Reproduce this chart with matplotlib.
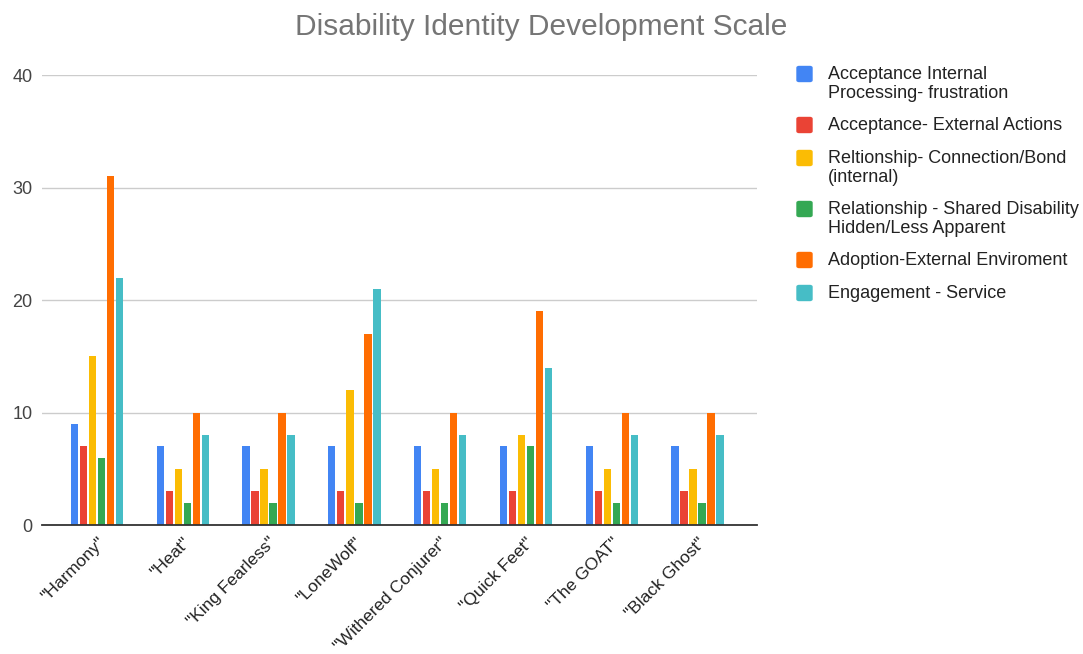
import numpy as np
import matplotlib.pyplot as plt
from matplotlib.patches import FancyBboxPatch

plt.rcParams['font.family'] = ['Liberation Sans', 'DejaVu Sans']

names = ['"Harmony"', '"Heat"', '"King Fearless"', '"LoneWolf"',
         '"Withered Conjurer"', '"Quick Feet"', '"The GOAT"', '"Black Ghost"']
series = ['Acceptance Internal\nProcessing- frustration',
          'Acceptance- External Actions',
          'Reltionship- Connection/Bond\n(internal)',
          'Relationship - Shared Disability\nHidden/Less Apparent',
          'Adoption-External Enviroment',
          'Engagement - Service']
acc_internal = [9, 7, 7, 7, 7, 7, 7, 7]
acc_external = [7, 3, 3, 3, 3, 3, 3, 3]
rel_bond = [15, 5, 5, 12, 5, 8, 5, 5]
rel_shared = [6, 2, 2, 2, 2, 7, 2, 2]
adoption = [31, 10, 10, 17, 10, 19, 10, 10]
engagement = [22, 8, 8, 21, 8, 14, 8, 8]
values = [acc_internal, acc_external, rel_bond, rel_shared, adoption, engagement]
colors = ['#4285F4', '#EA4335', '#FBBC04', '#34A853', '#FF6D01', '#46BDC6']

fig = plt.figure(figsize=(10.83, 6.54), dpi=100)
ax = fig.add_axes([0.0388, 0.197, 0.660, 0.688])

x = np.arange(len(names))
step = 0.105
width = 0.085
for i, (vals, c) in enumerate(zip(values, colors)):
    ax.bar(x + (i - 2.5) * step, vals, width, color=c, zorder=3)

ax.set_xlim(-0.64, 7.69)
ax.set_ylim(0, 40)
ax.set_yticks([0, 10, 20, 30, 40])
ax.yaxis.grid(True, color='#cccccc', linewidth=1, zorder=0)
for s in ['top', 'right', 'left']:
    ax.spines[s].set_visible(False)
ax.spines['bottom'].set_color('#333333')
ax.spines['bottom'].set_linewidth(1.3)
ax.spines['bottom'].set_zorder(4)
ax.tick_params(axis='y', length=0, labelsize=13, labelcolor='#444444', pad=7)
ax.tick_params(axis='x', length=0, labelsize=12.5, labelcolor='#222222', pad=7)
ax.set_xticks(x)
ax.set_xticklabels(names, rotation=45, ha='right', rotation_mode='anchor')

fig.text(0.5, 0.958, 'Disability Identity Development Scale', ha='center', va='center',
         fontsize=21.5, color='#757575')

# legend
leg_y = [74, 125, 158, 209, 260, 293]
W, H = 1083, 654
for lab, c, yy in zip(series, colors, leg_y):
    fig.patches.append(FancyBboxPatch((797 / W, 1 - (yy + 7.5) / H), 15 / W, 15 / H,
                                      boxstyle='round,pad=0,rounding_size=0.002',
                                      transform=fig.transFigure, color=c))
    fig.text(828 / W, 1 - (yy - 8) / H, lab, ha='left', va='top', fontsize=13,
             color='#222222', linespacing=1.15)

fig.savefig('out.png', dpi=100)
